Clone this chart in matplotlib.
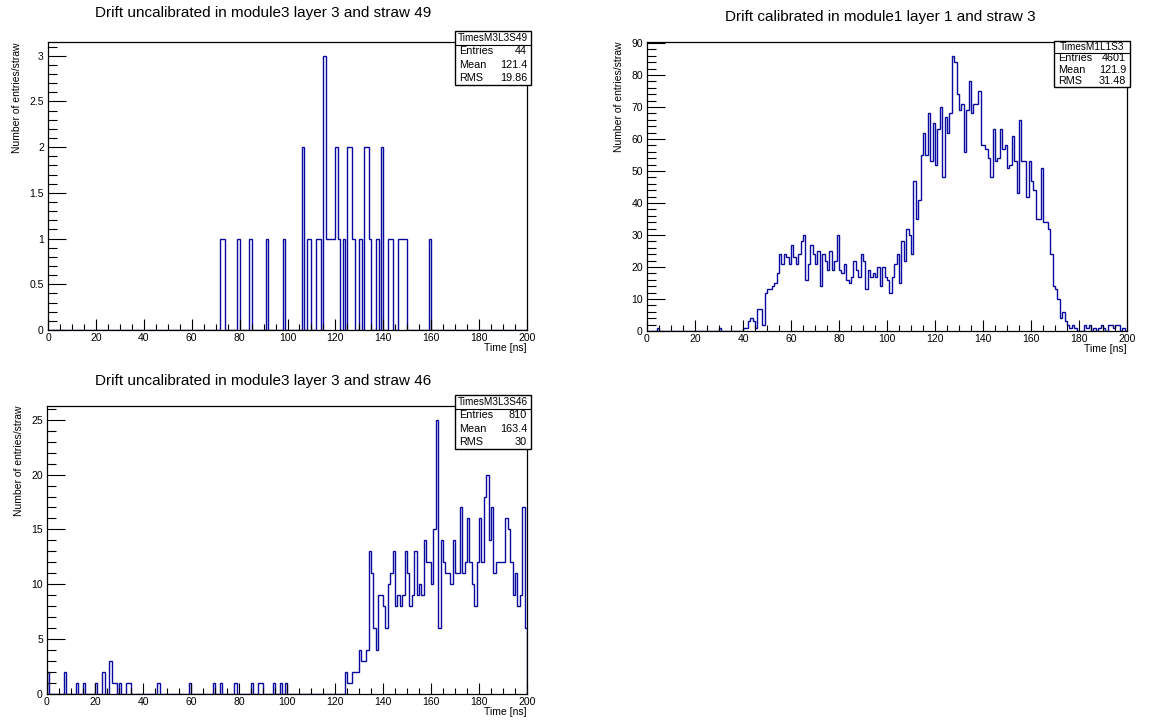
import matplotlib
matplotlib.use("Agg")
import matplotlib.pyplot as plt
import numpy as np
from matplotlib.patches import Rectangle
from matplotlib.ticker import MultipleLocator, FuncFormatter

plt.rcParams['font.family'] = ['Liberation Sans', 'DejaVu Sans']

# 1 ns bins from 0 to 200 ns
edges = np.arange(0, 201, 1)

# module3 layer 3 straw 49 (uncalibrated), sparse: bin start -> entries
s49_bins = [72, 73, 79, 84, 91, 98, 106, 108, 109, 112, 113, 115, 116, 117, 118, 119,
            120, 121, 123, 125, 126, 127, 130, 132, 133, 134, 137, 139, 142, 143,
            146, 147, 148, 149, 159]
s49_counts = [1, 1, 1, 1, 1, 1, 2, 1, 1, 1, 1, 3, 1, 1, 1, 1,
              2, 1, 1, 2, 2, 1, 1, 2, 2, 1, 1, 2, 1, 1,
              1, 1, 1, 1, 1]

# module1 layer 1 straw 3 (calibrated)
s3_counts = [
    0, 0, 0, 0, 1, 0, 0, 0, 0, 0, 0, 0, 0, 0, 0, 0, 0, 0, 0, 0,
    0, 0, 0, 0, 0, 0, 0, 0, 0, 0, 1, 0, 0, 0, 0, 0, 0, 0, 0, 0,
    1, 1, 3, 4, 3, 1, 7, 7, 2, 12, 13, 13, 14, 15, 18, 24, 21, 24, 23, 21,
    27, 23, 21, 24, 28, 30, 16, 21, 27, 24, 21, 25, 14, 24, 22, 19, 25, 19, 22, 30,
    19, 18, 21, 16, 15, 17, 22, 19, 17, 24, 22, 13, 19, 17, 18, 17, 20, 14, 20, 17,
    16, 12, 17, 21, 24, 15, 28, 22, 32, 30, 24, 47, 35, 41, 55, 62, 55, 68, 53, 65,
    52, 63, 70, 48, 67, 62, 68, 86, 84, 74, 69, 71, 56, 69, 78, 68, 71, 71, 75, 58,
    58, 57, 54, 48, 63, 53, 54, 63, 57, 58, 51, 52, 61, 53, 43, 66, 53, 53, 42, 53,
    47, 44, 35, 35, 51, 34, 34, 32, 24, 14, 13, 10, 4, 6, 3, 2, 1, 2, 1, 0,
    0, 0, 2, 1, 2, 0, 1, 0, 1, 2, 1, 0, 2, 2, 1, 2, 2, 0, 1, 0,
]

# module3 layer 3 straw 46 (uncalibrated)
s46_counts = [
    2, 0, 0, 0, 0, 0, 0, 2, 0, 0, 0, 0, 1, 0, 0, 1, 0, 0, 0, 0,
    1, 0, 0, 2, 0, 0, 3, 1, 1, 0, 1, 0, 0, 1, 1, 0, 0, 0, 0, 0,
    0, 0, 0, 0, 0, 0, 1, 0, 0, 0, 0, 0, 0, 0, 0, 0, 0, 0, 0, 1,
    0, 0, 0, 0, 0, 0, 0, 0, 0, 1, 0, 0, 1, 0, 0, 0, 0, 0, 1, 0,
    0, 0, 0, 0, 0, 1, 0, 0, 1, 1, 0, 0, 0, 0, 1, 0, 0, 1, 0, 1,
    0, 0, 0, 0, 0, 0, 0, 0, 0, 0, 0, 0, 0, 0, 0, 0, 0, 0, 0, 0,
    0, 0, 0, 0, 2, 1, 1, 2, 2, 2, 4, 3, 3, 4, 13, 11, 6, 4, 9, 9,
    8, 6, 10, 11, 13, 8, 9, 8, 9, 13, 11, 8, 9, 13, 9, 10, 9, 14, 12, 12,
    10, 15, 25, 6, 14, 12, 11, 11, 10, 14, 11, 11, 17, 11, 12, 16, 12, 10, 8, 12,
    16, 12, 18, 20, 14, 17, 11, 12, 12, 12, 12, 16, 15, 12, 9, 11, 8, 9, 17, 6,
]

titles = ["Drift uncalibrated in module3 layer 3 and straw 49",
          "Drift calibrated in module1 layer 1 and straw 3",
          "Drift uncalibrated in module3 layer 3 and straw 46"]
hist_names = ["TimesM3L3S49", "TimesM1L1S3", "TimesM3L3S46"]
stat_entries = ["44", "4601", "810"]
stat_means = ["121.4", "121.9", "163.4"]
stat_rms = ["19.86", "31.48", "30"]

W, H = 1173, 722
line_col = "#0a0aa0"


def px_axes(fig, left, top, right, bottom):
    return fig.add_axes([left / W, 1 - bottom / H, (right - left) / W, (bottom - top) / H])


def stat_box(fig, x0, y0, x1, y1, name, entries, mean, rms):
    # box coordinates in pixels from top-left
    tr = fig.transFigure
    fig.patches.append(Rectangle((x0 / W, 1 - y1 / H), (x1 - x0) / W, (y1 - y0) / H,
                                 transform=tr, facecolor="white", edgecolor="black",
                                 linewidth=1.0, zorder=5))
    row = (y1 - y0) / 4.0
    fig.add_artist(plt.Line2D([x0 / W, x1 / W], [1 - (y0 + row) / H] * 2, transform=tr,
                              color="black", linewidth=0.8, zorder=6))
    fig.text((x0 + x1) / 2 / W, 1 - (y0 + row / 2) / H, name, ha="center", va="center",
             fontsize=7.2, zorder=7)
    for i, (lab, val) in enumerate([("Entries", entries), ("Mean", mean), ("RMS", rms)]):
        yc = 1 - (y0 + row * (i + 1.5)) / H
        fig.text((x0 + 4) / W, yc, lab, ha="left", va="center", fontsize=7.8, zorder=7)
        fig.text((x1 - 4) / W, yc, val, ha="right", va="center", fontsize=7.8, zorder=7)


def draw_panel(ax, counts, ymax, major, minor, title, fig, title_xy):
    ax.stairs(counts, edges, color=line_col, linewidth=1.0, baseline=0)
    ax.set_xlim(0, 200)
    ax.set_ylim(0, ymax)
    ax.xaxis.set_major_locator(MultipleLocator(20))
    ax.xaxis.set_minor_locator(MultipleLocator(5))
    ax.yaxis.set_major_locator(MultipleLocator(major))
    ax.yaxis.set_minor_locator(MultipleLocator(minor))
    ax.yaxis.set_major_formatter(FuncFormatter(lambda v, p: f"{v:g}"))
    ax.tick_params(axis="both", which="both", direction="in", labelsize=7.5,
                   top=False, right=False, colors="black", width=0.8)
    ax.tick_params(axis="x", which="major", length=8, pad=2)
    ax.tick_params(axis="x", which="minor", length=4)
    ax.tick_params(axis="y", which="major", length=13, pad=3)
    ax.tick_params(axis="y", which="minor", length=6.5)
    for sp in ax.spines.values():
        sp.set_linewidth(0.9)
    ax.set_xlabel("Time [ns]", fontsize=7.5, loc="right", labelpad=0)
    ax.set_ylabel("Number of entries/straw", fontsize=7.5, loc="top", labelpad=5)
    fig.text(title_xy[0] / W, 1 - title_xy[1] / H, title, ha="center", va="center", fontsize=11)


fig = plt.figure(figsize=(W / 100, H / 100), dpi=100)

s49_full = np.zeros(200)
s49_full[s49_bins] = s49_counts

ax1 = px_axes(fig, 48, 42, 527, 330)
draw_panel(ax1, s49_full, 3.15, 0.5, 0.1, titles[0], fig, (263, 13))

ax2 = px_axes(fig, 647, 42, 1127, 331)
draw_panel(ax2, s3_counts, 90.3, 10, 2, titles[1], fig, (880, 17))

ax3 = px_axes(fig, 47, 406, 527, 694)
draw_panel(ax3, s46_counts, 26.25, 5, 1, titles[2], fig, (263, 381))

stat_box(fig, 455, 31, 531, 85, hist_names[0], stat_entries[0], stat_means[0], stat_rms[0])
stat_box(fig, 1054, 41, 1130, 87, hist_names[1], stat_entries[1], stat_means[1], stat_rms[1])
stat_box(fig, 455, 395, 531, 449, hist_names[2], stat_entries[2], stat_means[2], stat_rms[2])

fig.savefig("out.png", dpi=100)
